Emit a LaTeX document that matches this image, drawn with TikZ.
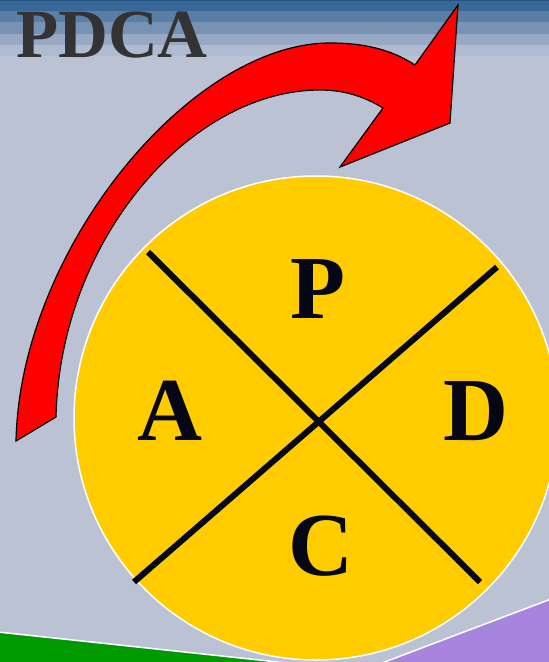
\documentclass[tikz,border=0pt]{standalone}
\usepackage{fontspec}
\setmainfont{Liberation Serif}
\usepackage{tikz}
\usepackage{xcolor}
\usetikzlibrary{positioning,calc}
\definecolor{backdrop}{HTML}{BBC2D4}
\definecolor{topline}{HTML}{23537F}
\definecolor{bandA}{HTML}{386897}
\definecolor{bandB}{HTML}{5A7FA7}
\definecolor{bandC}{HTML}{7892B4}
\definecolor{bandD}{HTML}{97A9C5}
\definecolor{bandE}{HTML}{AFBBD1}
\definecolor{sun}{HTML}{FFCC00}
\definecolor{titlegray}{HTML}{333333}
\definecolor{ink}{HTML}{050814}
\definecolor{leaf}{HTML}{009900}
\definecolor{lilac}{HTML}{A785DC}
\definecolor{arrowred}{HTML}{FF0000}
\tikzset{
  wheel/.style={circle, fill=sun, draw=white, line width=1.5pt,
                minimum size=484pt, inner sep=0pt},
  letter/.style={font=\fontsize{90}{90}\selectfont\bfseries, text=ink,
                 inner sep=0pt, anchor=base},
  spoke/.style={draw=ink, line width=6pt},
  corner/.style={draw=white, line width=1.5pt},
  turn/.style={fill=arrowred, draw=black, line width=1.2pt, line join=miter}
}

\begin{document}
\begin{tikzpicture}[x=1pt,y=-1pt]
  \useasboundingbox (0,0) rectangle (549,662);
  \fill[backdrop] (0,0) rectangle (549,662);

  % banner stripes
  \foreach \c [count=\i from 0] in {bandA,bandB,bandC,bandD,bandE}
    \fill[\c] (0,{\i*11.2}) rectangle (549,{\i*11.2+11.2});
  \fill[topline] (0,0) rectangle (549,1.2);

  \node[font=\fontsize{69}{69}\selectfont\bfseries, text=titlegray,
        inner sep=0pt, anchor=base west] (title) at (16,57) {PDCA};

  % corner shapes
  \filldraw[corner, fill=leaf] (-2,632) -- (287,663) -- (-2,663);
  \filldraw[corner, fill=lilac] (551,599) -- (382,663) -- (551,663);

  % the wheel
  \node[wheel] (wheel) at (316,418) {};
  \coordinate (nw) at (148,252);
  \coordinate (se) at (480,582);
  \coordinate (ne) at (497,267);
  \coordinate (sw) at (134,582);
  \draw[spoke] (nw) -- (se);
  \draw[spoke] (ne) -- (sw);

  \node[letter] (plan)  at (318,318) {P};
  \node[letter] (act)   at (170,440) {A};
  \node[letter] (do)    at (476,440) {D};
  \node[letter] (check) at (321,575) {C};

  % curved arrow
  \draw[turn]
    (16,441) .. controls (20,250) and (190,43) .. (330,43)
    .. controls (370,43) and (395,52) .. (415,65)
    -- (458,5) -- (450,123) -- (340,167) -- (383,108)
    .. controls (365,97) and (345,90) .. (320,90)
    .. controls (190,90) and (60,240) .. (56,417)
    -- cycle;
\end{tikzpicture}
\end{document}
